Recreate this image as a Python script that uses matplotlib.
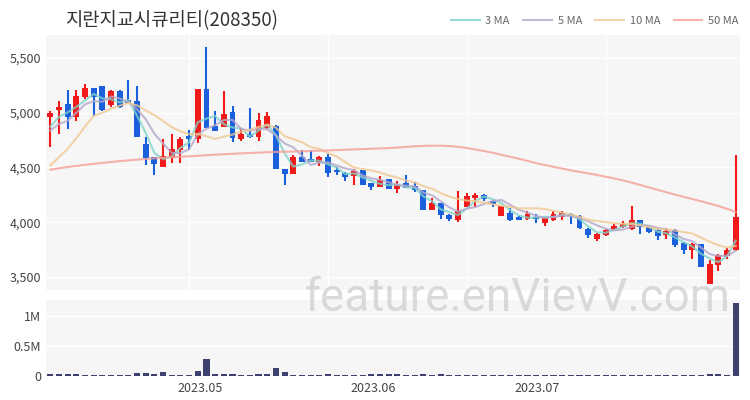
import numpy as np
import pandas as pd
import matplotlib
matplotlib.use('Agg')
import matplotlib.pyplot as plt

plt.rcParams['font.family'] = ['Noto Sans CJK KR', 'DejaVu Sans']

title = '지란지교시큐리티(208350)'

opens = [4965, 5021, 5082, 4963, 5140, 5225, 5240, 5067, 5201, 5119,
         5104, 4717, 4595, 4501, 4586, 4656, 4784, 4760, 5216, 4875,
         4866, 5003, 4760, 4805, 4775, 4860, 4881, 4489, 4440, 4595,
         4577, 4546, 4592, 4480, 4450, 4425, 4473, 4358, 4322, 4394,
         4303, 4358, 4333, 4297, 4108, 4176, 4069, 4023, 4135, 4221,
         4251, 4190, 4060, 4084, 4047, 4029, 4047, 3993, 4023, 4047,
         4078, 4060, 3938, 3850, 3886, 3938, 3956, 3938, 4023, 3962,
         3926, 3880, 3926, 3810, 3749, 3801, 3439, 3612, 3688, 3743]
highs = [5018, 5110, 5210, 5210, 5265, 5230, 5245, 5210, 5205, 5301,
         5240, 4781, 4598, 4760, 4808, 4781, 4845, 5216, 5600, 5012,
         5201, 5064, 4860, 5043, 4997, 5003, 4890, 4489, 4610, 4662,
         4662, 4605, 4626, 4507, 4455, 4489, 4480, 4360, 4425, 4394,
         4373, 4434, 4363, 4297, 4221, 4176, 4075, 4282, 4267, 4267,
         4260, 4200, 4145, 4130, 4055, 4105, 4075, 4045, 4099, 4105,
         4085, 4070, 3945, 3900, 3940, 3987, 4014, 4151, 4023, 3962,
         3940, 3950, 3935, 3815, 3810, 3801, 3658, 3710, 3764, 4616]
lows = [4690, 4808, 4854, 4921, 5130, 4966, 5020, 5055, 5045, 5085,
        4775, 4519, 4428, 4501, 4541, 4541, 4656, 4723, 4860, 4836,
        4866, 4732, 4744, 4770, 4744, 4850, 4489, 4343, 4440, 4550,
        4546, 4510, 4409, 4434, 4373, 4343, 4343, 4291, 4322, 4303,
        4267, 4312, 4280, 4108, 4108, 4029, 4007, 4004, 4135, 4139,
        4190, 4139, 4060, 4007, 4020, 4017, 3993, 3962, 4015, 4023,
        3987, 3935, 3856, 3831, 3875, 3925, 3950, 3932, 3895, 3900,
        3834, 3850, 3770, 3710, 3667, 3587, 3439, 3557, 3667, 3740]
closes = [5000, 5048, 4963, 5149, 5225, 5140, 5027, 5201, 5055, 5088,
          4775, 4586, 4534, 4607, 4668, 4760, 4763, 5216, 4860, 4836,
          4991, 4769, 4805, 4775, 4930, 4966, 4489, 4440, 4595, 4550,
          4546, 4592, 4450, 4455, 4413, 4470, 4343, 4322, 4388, 4303,
          4343, 4312, 4291, 4108, 4176, 4069, 4032, 4099, 4242, 4251,
          4212, 4166, 4145, 4023, 4023, 4078, 4029, 4038, 4075, 4084,
          4053, 3947, 3886, 3892, 3932, 3968, 3984, 4023, 3956, 3907,
          3877, 3916, 3788, 3749, 3801, 3587, 3618, 3703, 3749, 4044]
volumes = [36000, 40000, 40000, 30000, 12000, 12000, 12000, 12000, 12000, 12000,
           54000, 54000, 40000, 60000, 24000, 24000, 24000, 90000, 277000, 36000,
           40000, 40000, 24000, 24000, 36000, 36000, 140000, 66000, 24000, 24000,
           24000, 24000, 36000, 12000, 12000, 24000, 12000, 40000, 30000, 36000,
           30000, 12000, 12000, 36000, 18000, 36000, 24000, 24000, 24000, 18000,
           12000, 12000, 12000, 24000, 12000, 12000, 12000, 12000, 12000, 14000,
           12000, 12000, 14000, 12000, 12000, 12000, 12000, 14000, 12000, 12000,
           12000, 12000, 12000, 18000, 14000, 12000, 30000, 30000, 24000, 1220000]
# closes before the visible window (needed for the short moving averages)
prior_closes = [4300, 4200, 4180, 4150, 4170, 4750, 4820, 4780, 4840]
# 50-day average (history before the window is unknown)
ma50 = [4480, 4492, 4504, 4514, 4524, 4533, 4542, 4550, 4558, 4565,
        4572, 4578, 4584, 4589, 4594, 4598, 4602, 4607, 4612, 4617,
        4621, 4625, 4629, 4632, 4636, 4639, 4642, 4644, 4646, 4648,
        4650, 4653, 4656, 4659, 4662, 4665, 4668, 4671, 4674, 4677,
        4682, 4688, 4693, 4697, 4699, 4699, 4696, 4689, 4678, 4664,
        4650, 4634, 4616, 4598, 4580, 4560, 4540, 4522, 4506, 4490,
        4474, 4460, 4446, 4432, 4416, 4400, 4382, 4362, 4340, 4318,
        4296, 4274, 4252, 4232, 4212, 4192, 4170, 4148, 4122, 4095]
month_pos = [17.3, 37.2, 56.1]
month_labels = ['2023.05', '2023.06', '2023.07']

n = len(closes)
x = np.arange(n)
o = np.array(opens)
c = np.array(closes)
up = c >= o

s = pd.Series(prior_closes + closes)
ma3 = s.rolling(3).mean().values[len(prior_closes):]
ma5 = s.rolling(5).mean().values[len(prior_closes):]
ma10 = s.rolling(10).mean().values[len(prior_closes):]

red = '#f01a1a'
blue = '#1a5fdc'
panel = '#f6f6f6'

fig = plt.figure(figsize=(7.5, 4), dpi=100)
ax = fig.add_axes([0.0613, 0.275, 0.9254, 0.6375])
axv = fig.add_axes([0.0613, 0.06, 0.9254, 0.19], sharex=ax)

for a in (ax, axv):
    a.set_facecolor(panel)
    for sp in a.spines.values():
        sp.set_visible(False)
    a.tick_params(length=0, labelsize=9, colors='#444444')
    a.grid(axis='y', color='white', linewidth=1)
    a.set_axisbelow(True)

for gx in [16, 32, 48, 64]:
    ax.axvline(gx, color='white', linewidth=1, zorder=0)

colors = np.where(up, red, blue)
ax.vlines(x, lows, highs, colors=colors, linewidth=1.5, zorder=2)
body = np.maximum(np.abs(c - o), 12)
ax.bar(x, body, bottom=np.minimum(o, c), width=0.68, color=colors, zorder=3)

ax.plot(x, ma3, color='#7fd3c8', lw=1.5, alpha=0.8, zorder=4, label='3 MA')
ax.plot(x, ma5, color='#b4a8cc', lw=1.5, alpha=0.8, zorder=4, label='5 MA')
ax.plot(x, ma10, color='#f0c892', lw=1.5, alpha=0.8, zorder=4, label='10 MA')
ax.plot(x, ma50, color='#f5a096', lw=1.5, alpha=0.8, zorder=4, label='50 MA')

ax.set_xlim(-0.5, n - 0.5)
ax.set_ylim(3381, 5710)
ax.set_yticks([3500, 4000, 4500, 5000, 5500])
ax.set_yticklabels(['3,500', '4,000', '4,500', '5,000', '5,500'])
ax.tick_params(axis='x', labelbottom=False)

axv.bar(x, volumes, width=0.7, color='#3e4170', zorder=3)
axv.set_ylim(0, 1.267e6)
axv.set_yticks([0, 500000, 1000000])
axv.set_yticklabels(['0', '0.5M', '1M'])
axv.set_xticks(month_pos)
axv.set_xticklabels(month_labels)
axv.tick_params(axis='x', pad=4)

fig.text(0.087, 0.948, title, fontsize=13.5, color='#333333', va='center')
fig.legend(loc='center right', bbox_to_anchor=(0.998, 0.948), ncol=4, frameon=False,
           fontsize=8, handlelength=2.6, columnspacing=1.2, handletextpad=0.5,
           labelcolor='#666666')

fig.text(0.69, 0.255, 'feature.enVievV.com', fontsize=33, color='#cccccc',
         alpha=0.7, ha='center', va='center', family=['Roboto', 'DejaVu Sans'], zorder=10)

fig.savefig('out.png', dpi=100)
